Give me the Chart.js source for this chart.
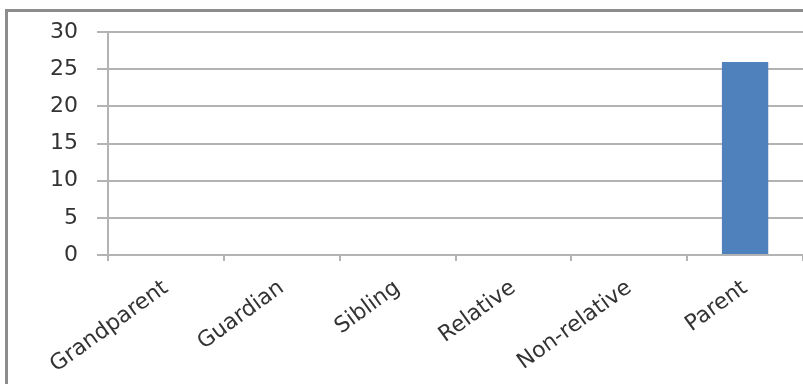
<!DOCTYPE html>
<html>
<head>
<meta charset="utf-8">
<script src="https://cdn.jsdelivr.net/npm/chart.js@4/dist/chart.umd.min.js"></script>
<style>
  html, body { margin: 0; padding: 0; background: #ffffff; }
  #wrap { position: relative; width: 803px; height: 384px; overflow: hidden; }
  #frame {
    position: absolute; left: 5px; top: 9px; width: 900px; height: 500px;
    border-left: 3px solid #8c8c8c; border-top: 3px solid #8c8c8c;
    box-sizing: border-box;
  }
  canvas { position: absolute; left: 0; top: 0; }
</style>
</head>
<body>
<div id="wrap">
  <div id="frame"></div>
  <canvas id="c" width="803" height="384"></canvas>
</div>
<script>
// Who the child lives with
const categories = ['Grandparent', 'Guardian', 'Sibling', 'Relative', 'Non-relative', 'Parent'];
const counts = [0, 0, 0, 0, 0, 26];
const yTicks = [0, 5, 10, 15, 20, 25, 30];

const gridColor = '#b3b3b3';
const textColor = '#333333';
const tickFont = { family: 'DejaVu Sans', size: 22 };

new Chart(document.getElementById('c'), {
  type: 'bar',
  data: {
    labels: categories,
    datasets: [{
      data: counts,
      backgroundColor: '#4f81bd',
      borderWidth: 0,
      barPercentage: 0.4,
      categoryPercentage: 1.0
    }]
  },
  options: {
    responsive: false,
    animation: false,
    events: [],
    layout: { padding: { top: 30, left: 0, right: 0, bottom: 0 } },
    plugins: { legend: { display: false }, tooltip: { enabled: false } },
    scales: {
      x: {
        offset: true,
        grid: {
          offset: true,
          drawOnChartArea: false,
          drawTicks: true,
          tickLength: 6,
          color: gridColor,
          lineWidth: 2
        },
        border: { color: gridColor, width: 2 },
        ticks: {
          color: textColor,
          font: tickFont,
          minRotation: 36,
          maxRotation: 36,
          padding: 14,
          autoSkip: false
        },
        afterFit(scale) { scale.height = 129; }
      },
      y: {
        min: 0,
        max: 30,
        afterBuildTicks(scale) { scale.ticks = yTicks.map(v => ({ value: v })); },
        grid: {
          color: gridColor,
          lineWidth: 2,
          drawTicks: true,
          tickLength: 11
        },
        border: { color: gridColor, width: 2 },
        ticks: {
          color: textColor,
          font: tickFont,
          padding: 19
        },
        afterFit(scale) { scale.width = 108; }
      }
    }
  }
});
</script>
</body>
</html>
